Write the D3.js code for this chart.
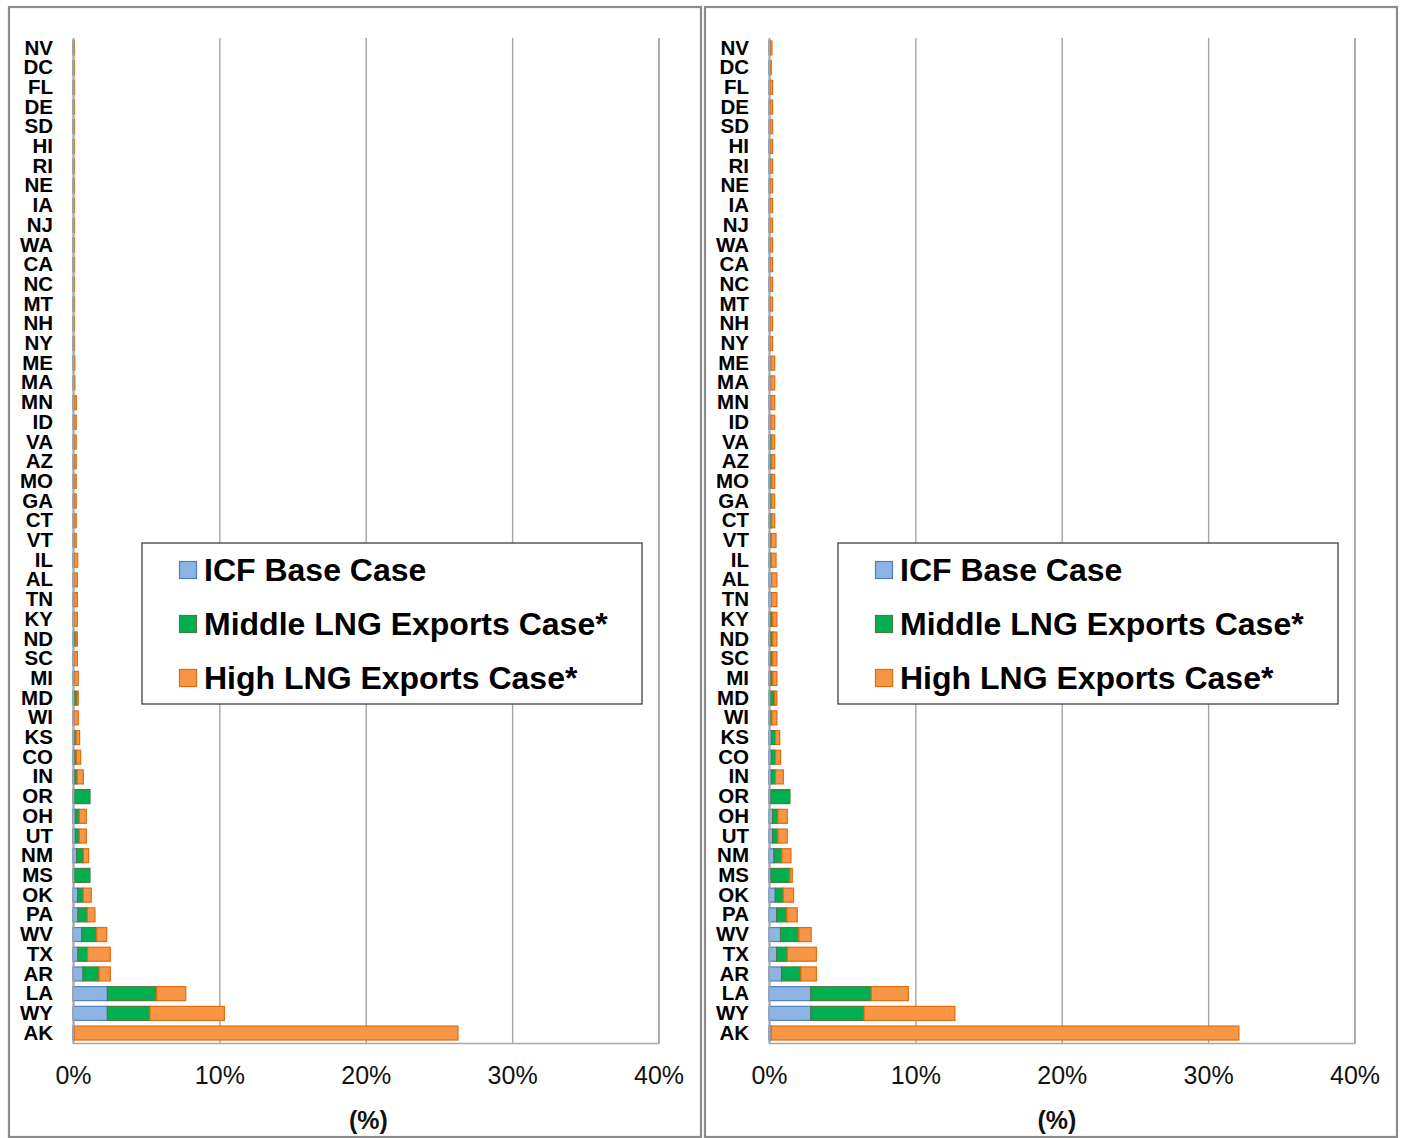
<!DOCTYPE html>
<html>
<head>
<meta charset="utf-8">
<script src="https://cdn.jsdelivr.net/npm/d3@7"></script>
<style>
  html, body { margin: 0; padding: 0; background: #fff; }
  svg { display: block; font-family: "Liberation Sans", Arial, sans-serif; }
</style>
</head>
<body>
<svg id="chart" width="1403" height="1138"></svg>
<script>
// ---------- DATA ----------
const states = ["NV","DC","FL","DE","SD","HI","RI","NE","IA","NJ","WA","CA","NC","MT","NH","NY",
  "ME","MA","MN","ID","VA","AZ","MO","GA","CT","VT","IL","AL","TN","KY","ND","SC","MI","MD","WI",
  "KS","CO","IN","OR","OH","UT","NM","MS","OK","PA","WV","TX","AR","LA","WY","AK"];

const seriesNames = ["ICF Base Case", "Middle LNG Exports Case*", "High LNG Exports Case*"];

// Left panel (stacked segment values, %)
const leftBase = [0.04,0.04,0.04,0.04,0.04,0.04,0.04,0.04,0.04,0.04,0.04,0.04,0.04,0.04,0.04,0.04,
  0.07,0.07,0.1,0.1,0.1,0.1,0.1,0.1,0.1,0.1,0.1,0.1,0.1,0.1,0.1,0.1,0.12,0.08,0.09,
  0.08,0.08,0.11,0.07,0.16,0.16,0.25,0.07,0.32,0.34,0.59,0.34,0.68,2.35,2.35,0.1];
const leftMiddle = [0,0,0,0,0,0,0,0,0,0,0,0,0,0,0,0,
  0,0,0,0,0,0,0,0,0,0,0,0,0,0,0.1,0,0,0.2,0,
  0.14,0.15,0.18,1.09,0.27,0.27,0.46,1.09,0.39,0.64,1.03,0.66,1.10,3.37,2.91,0];
const leftHigh = [0.01,0.01,0.01,0.01,0.01,0.01,0.01,0.01,0.01,0.01,0.01,0.01,0.01,0.01,0.01,0.01,
  0.02,0.02,0.13,0.12,0.12,0.12,0.12,0.12,0.12,0.12,0.22,0.2,0.2,0.2,0.1,0.2,0.24,0.08,0.27,
  0.23,0.29,0.42,0,0.48,0.48,0.36,0,0.54,0.52,0.68,1.55,0.77,1.98,5.08,26.2];

// Right panel (stacked segment values, %)
const rightBase = [0.1,0.1,0.1,0.1,0.1,0.1,0.1,0.1,0.1,0.1,0.1,0.1,0.1,0.1,0.1,0.1,
  0.13,0.13,0.13,0.13,0.09,0.09,0.09,0.09,0.09,0.09,0.09,0.18,0.18,0.09,0.09,0.09,0.09,0.09,0.09,
  0.16,0.16,0.16,0.09,0.25,0.25,0.34,0.11,0.43,0.52,0.79,0.52,0.86,2.86,2.86,0.15];
const rightMiddle = [0,0,0,0,0,0,0,0,0,0,0,0,0,0,0,0,
  0,0,0,0,0.09,0.09,0.09,0.09,0.09,0.07,0.07,0,0,0.16,0.16,0.16,0.16,0.3,0.11,
  0.29,0.29,0.29,1.34,0.36,0.36,0.54,1.32,0.55,0.70,1.25,0.73,1.32,4.13,3.63,0];
const rightHigh = [0.1,0.05,0.15,0.15,0.15,0.15,0.15,0.15,0.15,0.15,0.15,0.15,0.15,0.15,0.15,0.15,
  0.26,0.26,0.26,0.26,0.21,0.21,0.21,0.21,0.21,0.32,0.32,0.36,0.36,0.29,0.29,0.29,0.29,0.15,0.34,
  0.28,0.34,0.53,0,0.64,0.64,0.62,0.16,0.70,0.71,0.84,1.99,1.06,2.53,6.21,31.95];

const xTicks = [0, 10, 20, 30, 40];
const axisTitle = "(%)";

// ---------- STYLE ----------
const fills   = ["#8DB4E2", "#00B050", "#F79646"];
const strokes = ["#4F81BD", "#4F7A3A", "#E46C0A"];
const gridColor = "#A6A6A6";

const svg = d3.select("#chart");

function drawPanel(offsetX, base, middle, high, titleX) {
  const g = svg.append("g").attr("transform", `translate(${offsetX},0)`);

  // panel frame
  g.append("rect")
    .attr("x", 9).attr("y", 7).attr("width", 692).attr("height", 1130)
    .attr("fill", "none").attr("stroke", "#8C8C8C").attr("stroke-width", 2.2);

  const x = d3.scaleLinear().domain([0, 40]).range([73, 658.5]);
  const y = d3.scaleBand().domain(states).range([38, 1043])
    .paddingInner(0.29).paddingOuter(0.15);

  // gridlines + tick labels
  const xAxis = g.append("g")
    .attr("transform", "translate(0,1043)")
    .call(d3.axisBottom(x).tickValues(xTicks).tickSize(-1005).tickPadding(23)
      .tickFormat(d => d + "%"));
  xAxis.select(".domain").attr("stroke", gridColor).attr("stroke-width", 1.6);
  xAxis.selectAll(".tick line").attr("stroke", gridColor).attr("stroke-width", 1.4);
  xAxis.selectAll(".tick text")
    .attr("font-size", 25).attr("fill", "#111")
    .attr("font-family", "'Liberation Sans', Arial, sans-serif");

  // stacked bars
  const rows = states.map((s, i) => ({ state: s, v: [base[i], middle[i], high[i]] }));
  const stack = d3.stack().keys([0, 1, 2]).value((d, k) => d.v[k]);
  const layers = stack(rows);

  layers.forEach((layer, k) => {
    g.append("g").selectAll("rect")
      .data(layer.filter(d => d[1] - d[0] > 0))
      .join("rect")
      .attr("x", d => x(d[0]))
      .attr("y", d => y(d.data.state))
      .attr("width", d => Math.max(0.8, x(d[1]) - x(d[0])))
      .attr("height", y.bandwidth())
      .attr("fill", fills[k])
      .attr("stroke", strokes[k])
      .attr("stroke-width", 1.2);
  });

  // category axis
  const yAxis = g.append("g")
    .attr("transform", `translate(${x(0)},0)`)
    .call(d3.axisLeft(y).tickSize(0).tickPadding(20));
  yAxis.select(".domain").attr("stroke", gridColor).attr("stroke-width", 1.6);
  yAxis.selectAll(".tick text")
    .attr("font-size", 20.5).attr("font-weight", "bold").attr("fill", "#000")
    .attr("font-family", "'Liberation Sans', Arial, sans-serif");

  // axis title
  g.append("text")
    .attr("x", titleX)
    .attr("y", 1129)
    .attr("text-anchor", "middle")
    .attr("font-size", 25).attr("font-weight", "bold").attr("fill", "#111")
    .text(axisTitle);

  // legend
  const lg = g.append("g").attr("transform", "translate(142,543)");
  lg.append("rect").attr("width", 500).attr("height", 161)
    .attr("fill", "#fff").attr("stroke", "#404040").attr("stroke-width", 1.3);
  seriesNames.forEach((name, k) => {
    const cy = 27 + k * 54;
    lg.append("rect").attr("x", 37.5).attr("y", cy - 8.5).attr("width", 17).attr("height", 17)
      .attr("fill", fills[k]).attr("stroke", strokes[k]).attr("stroke-width", 1.2);
    lg.append("text").attr("x", 62).attr("y", cy).attr("dy", "0.35em")
      .attr("font-size", 32).attr("font-weight", "bold").attr("fill", "#000")
      .text(name);
  });
}

drawPanel(0, leftBase, leftMiddle, leftHigh, 368.5);
drawPanel(696, rightBase, rightMiddle, rightHigh, 361);
</script>
</body>
</html>
